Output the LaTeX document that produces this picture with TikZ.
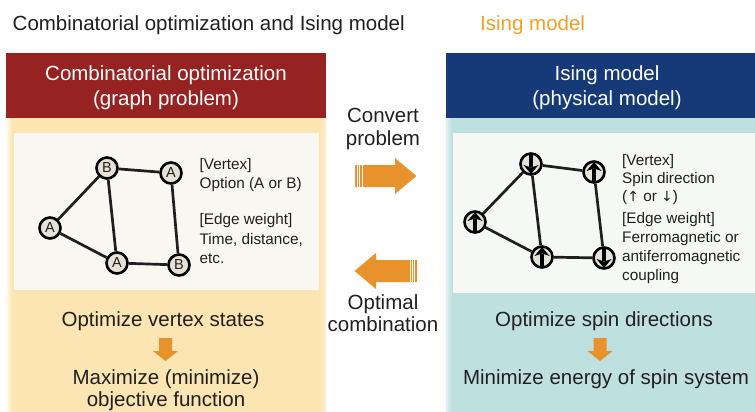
\documentclass[tikz,border=0pt]{standalone}
\usepackage{fontspec}
\setmainfont{Liberation Sans}
\newfontfamily\arrowfont{DejaVu Sans}
\definecolor{hdred}{RGB}{150,35,33}
\definecolor{hdblue}{RGB}{22,58,120}
\definecolor{peach}{RGB}{251,229,178}
\definecolor{tealbody}{RGB}{190,225,224}
\definecolor{innerL}{RGB}{249,247,242}
\definecolor{innerR}{RGB}{246,248,246}
\definecolor{arrowor}{RGB}{232,146,44}
\definecolor{titleor}{RGB}{242,160,40}
\definecolor{txt}{RGB}{35,31,32}
\definecolor{nodefill}{RGB}{230,226,215}
\tikzset{
  big/.style={font=\fontsize{20.5}{24}\selectfont, text=txt, inner sep=0pt, anchor=base},
  hdtext/.style={big, text=white},
  small/.style={font=\fontsize{15.3}{19}\selectfont, text=txt, inner sep=0pt, anchor=base west},
  vtx/.style={circle, draw=black, line width=2.6pt, fill=nodefill, minimum size=21pt, inner sep=0pt, text=txt, font=\fontsize{14.5}{14.5}\selectfont},
  gedge/.style={line width=2.7pt, draw=black!88},
  spinup/.style={vtx, path picture={
     \begin{scope}[shift={(path picture bounding box.center)}]
       \draw[black, line width=3.8pt] (0,10) -- (0,-3);
       \fill[black] (0,-10) -- (7.5,-1) -- (0,-3.5) -- (-7.5,-1) -- cycle;
     \end{scope}}},
  spindown/.style={vtx, path picture={
     \begin{scope}[shift={(path picture bounding box.center)}]
       \draw[black, line width=3.8pt] (0,-10) -- (0,3);
       \fill[black] (0,10) -- (7.5,1) -- (0,3.5) -- (-7.5,1) -- cycle;
     \end{scope}}},
  stripe/.style={draw=white, line width=0.7pt},
}
\begin{document}
\begin{tikzpicture}[x=1pt, y=-1pt]
\useasboundingbox (0,0) rectangle (755,412);
\fill[white] (0,0) rectangle (755,412);

% title
\node[big, anchor=base west] (title) at (12.5,31) {Combinatorial optimization and Ising model};
\node[big, anchor=base west, text=titleor] (title2) at (480,31) {Ising model};

% left panel
\fill[peach] (6,118) rectangle (326,412);
\shade[left color=white, right color=peach] (5,118) rectangle (12,412);
\shade[left color=peach, right color=white!40!peach] (320,118) rectangle (326,412);
\fill[hdred] (6,53) rectangle (326,118);
\fill[innerL] (14,133) rectangle (319,290);

% right panel
\fill[tealbody] (446,118) rectangle (755,412);
\shade[left color=white!50!tealbody, right color=tealbody] (446,118) rectangle (452,412);
\fill[hdblue] (446,53) rectangle (755,118);
\fill[innerR] (453,133) rectangle (755,293);

% headers
\node[hdtext] (lh1) at (166,81) {Combinatorial optimization};
\node[hdtext] (lh2) at (166,106) {(graph problem)};
\node[hdtext] (rh1) at (607,81) {Ising model};
\node[hdtext] (rh2) at (607,106) {(physical model)};

% left graph
\node[vtx] (b1) at (107,168) {B};
\node[vtx] (a1) at (171,173) {A};
\node[vtx] (a2) at (50,228) {A};
\node[vtx] (a3) at (117,263) {A};
\node[vtx] (b2) at (179,265) {B};
\draw[gedge] (a2) -- (b1);
\draw[gedge] (b1) -- (a1);
\draw[gedge] (b1) -- (a3);
\draw[gedge] (a2) -- (a3);
\draw[gedge] (a3) -- (b2);
\draw[gedge] (a1) -- (b2);

\node[small] (lv1) at (199.5,169) {[Vertex]};
\node[small] (lv2) at (199.5,188) {Option (A or B)};
\node[small] (le1) at (199.5,224) {[Edge weight]};
\node[small] (le2) at (199.5,244) {Time, distance,};
\node[small] (le3) at (199.5,263) {etc.};

% right graph
\node[spindown] (d1) at (531,164) {};
\node[spinup] (u1) at (594,172) {};
\node[spinup] (u2) at (475,222) {};
\node[spinup] (u3) at (542,257) {};
\node[spindown] (d2) at (604,258) {};
\draw[gedge] (u2) -- (d1);
\draw[gedge] (d1) -- (u1);
\draw[gedge] (d1) -- (u3);
\draw[gedge] (u2) -- (u3);
\draw[gedge] (u3) -- (d2);
\draw[gedge] (u1) -- (d2);

\node[small] (rv1) at (622,165) {[Vertex]};
\node[small] (rv2) at (622,183) {Spin direction};
\node[small] (rv3) at (622,201) {({\arrowfont\fontsize{14}{14}\selectfont ↑} or {\arrowfont\fontsize{14}{14}\selectfont ↓})};
\node[small] (re1) at (622,223) {[Edge weight]};
\node[small] (re2) at (622,242) {Ferromagnetic or};
\node[small] (re3) at (622,261) {antiferromagnetic};
\node[small] (re4) at (622,280) {coupling};

% middle
\node[big] (conv1) at (383,122) {Convert};
\node[big] (conv2) at (383,145) {problem};
\fill[arrowor] (355,165) -- (395,165) -- (395,158) -- (416.5,176) -- (395,194) -- (395,187) -- (355,187) -- cycle;
\draw[stripe] (357.5,165) -- (357.5,187);
\draw[stripe] (359.8,165) -- (359.8,187);
\draw[stripe] (362.1,165) -- (362.1,187);
\fill[arrowor] (417,260) -- (376,260) -- (376,253) -- (354.5,271) -- (376,289) -- (376,282) -- (417,282) -- cycle;
\draw[stripe] (410.2,260) -- (410.2,282);
\draw[stripe] (412.5,260) -- (412.5,282);
\draw[stripe] (414.8,260) -- (414.8,282);
\node[big] (opt1) at (383,309) {Optimal};
\node[big] (opt2) at (383,331) {combination};

% bottom left
\node[big] (lb1) at (163,326) {Optimize vertex states};
\fill[arrowor] (159,338) -- (172,338) -- (172,351) -- (178,351) -- (165.5,361) -- (153,351) -- (159,351) -- cycle;
\node[big] (lb2) at (166,384) {Maximize (minimize)};
\node[big] (lb3) at (166,406) {objective function};

% bottom right
\node[big] (rb1) at (604,326) {Optimize spin directions};
\fill[arrowor] (593.5,338) -- (606.5,338) -- (606.5,351) -- (612.5,351) -- (600,361) -- (587.5,351) -- (593.5,351) -- cycle;
\node[big] (rb2) at (606,384) {Minimize energy of spin system};
\end{tikzpicture}
\end{document}
